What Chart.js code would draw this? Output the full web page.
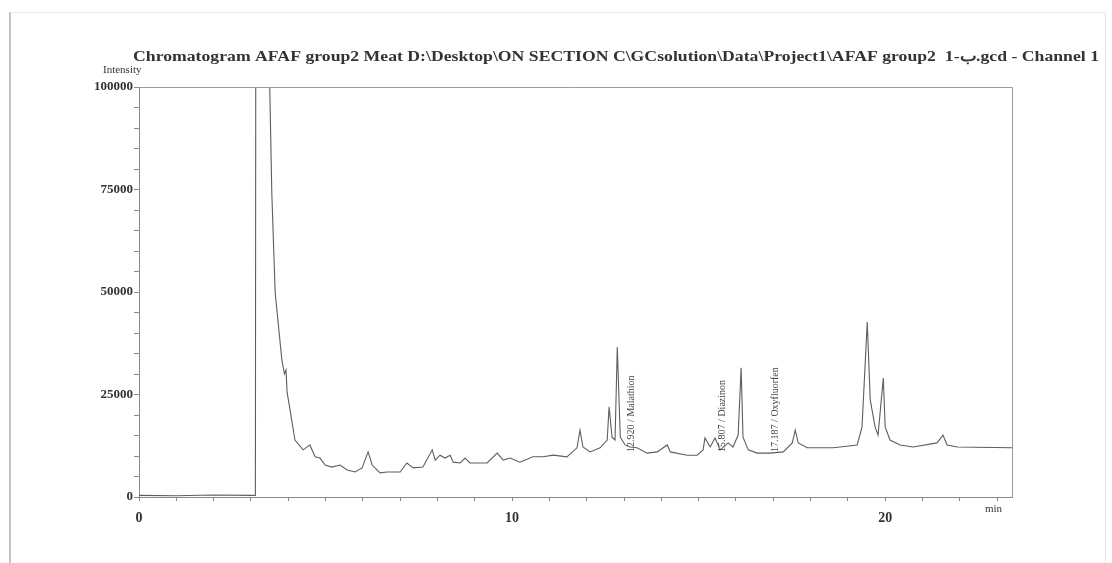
<!DOCTYPE html>
<html>
<head>
<meta charset="utf-8">
<script src="https://cdn.jsdelivr.net/npm/chart.js@4"></script>
<style>
  html, body { margin: 0; padding: 0; background: #fff; }
  #wrap { position: relative; width: 1112px; height: 563px; }
  #page { position: absolute; left: 9px; top: 12px; right: 6px; bottom: -2px;
          border-left: 2px solid #c4c4c4; border-top: 1px solid #ececec; border-right: 1px solid #e2e2e2; }
  canvas { position: absolute; left: 0; top: 0; }
</style>
</head>
<body>
<div id="wrap">
  <div id="page"></div>
  <canvas id="chrom" width="1112" height="563"></canvas>
</div>
<script>
// retention time (min) and detector response
const times = [0, 1, 2, 3.0, 3.12, 3.3, 3.5, 3.56, 3.65, 3.83, 3.90, 3.94, 3.97, 4.05, 4.18, 4.40, 4.58, 4.72, 4.85,
  4.99, 5.17, 5.39, 5.58, 5.79, 5.98, 6.14, 6.25, 6.46, 6.65, 7.00, 7.18, 7.35, 7.61, 7.86, 7.94, 8.07, 8.20,
  8.34, 8.42, 8.61, 8.74, 8.87, 9.33, 9.60, 9.76, 9.95, 10.21, 10.56, 10.83, 11.10, 11.47, 11.74, 11.82, 11.90,
  12.09, 12.36, 12.55, 12.60, 12.68, 12.76, 12.82, 12.90, 13.03, 13.16, 13.35, 13.62, 13.89, 14.16, 14.24,
  14.69, 14.96, 15.12, 15.17, 15.31, 15.44, 15.58, 15.79, 15.92, 16.06, 16.14, 16.19, 16.33, 16.57, 16.92,
  17.27, 17.51, 17.59, 17.67, 17.91, 18.61, 19.25, 19.38, 19.52, 19.60, 19.73, 19.81, 19.95, 20.00, 20.13,
  20.40, 20.75, 21.39, 21.55, 21.66, 21.93, 23.4];
const intensity = [400, 300, 500, 400, 400, 2000000, 102000, 74100, 49800, 33400, 30000, 31000, 25500, 21200, 13900,
  11500, 12700, 9800, 9500, 7800, 7300, 7800, 6600, 6100, 7100, 11000, 7800, 5900, 6100, 6100, 8300, 7100, 7300,
  11500, 9000, 10200, 9500, 10200, 8500, 8300, 9500, 8300, 8300, 10700, 9000, 9500, 8500, 9800, 9800, 10200,
  9800, 12000, 16300, 12200, 11000, 12000, 13900, 22000, 14600, 13900, 36600, 14600, 12700, 12200, 12000,
  10700, 11000, 12700, 11000, 10200, 10200, 11500, 14400, 12200, 14400, 11500, 13200, 12200, 15100, 31500,
  14600, 11500, 10700, 10700, 11000, 13200, 16300, 13200, 12000, 12000, 12700, 17100, 42700, 23700, 17100,
  15100, 29000, 17100, 13900, 12700, 12200, 13200, 15100, 12700, 12200, 12000];

const yMajor = [0, 25000, 50000, 75000, 100000];
const xMajor = [0, 10, 20];

// identified peaks: label position (min) and text
const peakTimes = [13.2, 15.65, 17.05];
const peakNames = ['12.920 / Malathion', '15.807 / Diazinon', '17.187 / Oxyfluorfen'];

const titleText = 'Chromatogram AFAF group2 Meat D:\\Desktop\\ON SECTION C\\GCsolution\\Data\\Project1\\AFAF group2  1-ب.gcd - Channel 1';

const serif = '"Liberation Serif", "DejaVu Serif", serif';

const decor = {
    id: 'decor',
    afterDatasetsDraw(chart) {
        const { ctx, chartArea: a, scales } = chart;
        ctx.save();
        // frame around plot
        ctx.strokeStyle = '#9a9a9a';
        ctx.lineWidth = 1;
        ctx.beginPath();
        ctx.moveTo(a.left, a.top + 0.5);
        ctx.lineTo(a.right + 0.5, a.top + 0.5);
        ctx.lineTo(a.right + 0.5, a.bottom);
        ctx.stroke();

        // peak labels, written bottom to top
        ctx.fillStyle = '#444';
        ctx.font = '10px ' + serif;
        ctx.textBaseline = 'middle';
        ctx.textAlign = 'left';
        peakTimes.forEach((t, i) => {
            const x = scales.x.getPixelForValue(t);
            const y = scales.y.getPixelForValue(11000);
            ctx.save();
            ctx.translate(x, y);
            ctx.rotate(-Math.PI / 2);
            ctx.fillText(peakNames[i], 0, 0);
            ctx.restore();
        });

        // header, stretched to the width it has on the scan
        ctx.fillStyle = '#333';
        ctx.font = 'bold 15px ' + serif;
        const w = ctx.measureText(titleText).width;
        ctx.save();
        ctx.translate(133, 57);
        ctx.scale(966 / w, 1);
        ctx.fillText(titleText, 0, 0);
        ctx.restore();

        ctx.font = '11px ' + serif;
        ctx.fillText('Intensity', 103, 70);
        ctx.fillText('min', 985, 509);
        ctx.restore();
    }
};

document.addEventListener('DOMContentLoaded', () => {
    const ctx = document.getElementById('chrom').getContext('2d');
    new Chart(ctx, {
        type: 'line',
        data: {
            datasets: [{
                data: times.map((t, i) => ({ x: t, y: intensity[i] })),
                borderColor: '#5e5e5e',
                borderWidth: 1.1,
                pointRadius: 0,
                tension: 0,
                fill: false
            }]
        },
        options: {
            responsive: false,
            animation: false,
            layout: { padding: { top: 87, right: 100, bottom: 0, left: 0 } },
            plugins: { legend: { display: false }, tooltip: { enabled: false } },
            scales: {
                x: {
                    type: 'linear',
                    min: 0,
                    max: 23.4,
                    afterFit: s => { s.height = 66; },
                    border: { color: '#8a8a8a', width: 1 },
                    grid: { drawOnChartArea: false, drawTicks: true, tickLength: 4, color: '#8a8a8a' },
                    ticks: {
                        stepSize: 1,
                        includeBounds: false,
                        autoSkip: false,
                        maxRotation: 0,
                        padding: 9,
                        color: '#333',
                        font: { family: serif, size: 14, weight: 'bold' },
                        callback: v => xMajor.includes(v) ? String(v) : ''
                    }
                },
                y: {
                    min: 0,
                    max: 100000,
                    afterFit: s => { s.width = 139; },
                    border: { color: '#8a8a8a', width: 1 },
                    grid: { drawOnChartArea: false, drawTicks: true, tickLength: 5, color: '#8a8a8a' },
                    ticks: {
                        stepSize: 5000,
                        autoSkip: false,
                        padding: 1,
                        color: '#333',
                        font: { family: serif, size: 13, weight: 'bold' },
                        callback: v => yMajor.includes(v) ? String(v) : ''
                    }
                }
            }
        },
        plugins: [decor]
    });
});
</script>
</body>
</html>
